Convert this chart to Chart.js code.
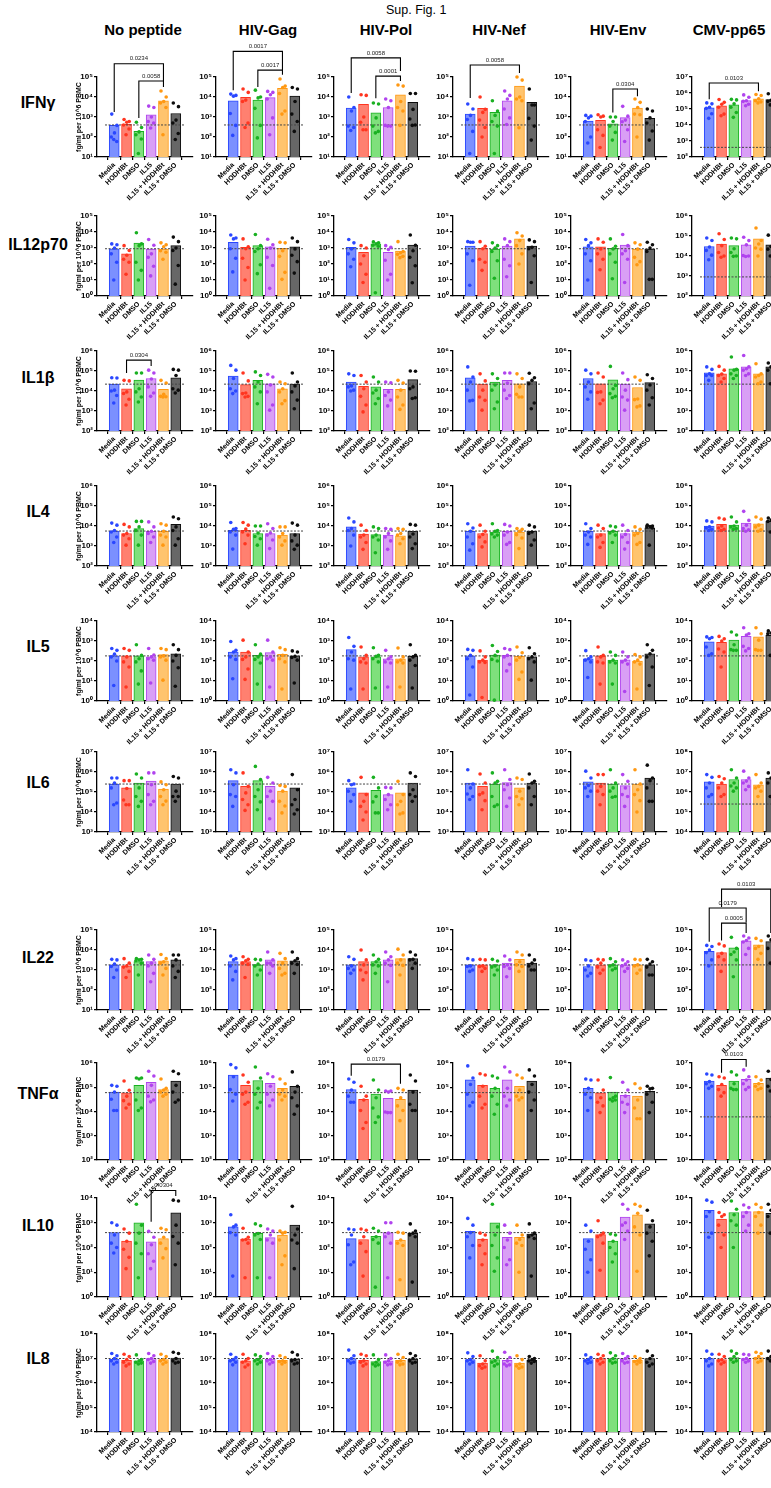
<!DOCTYPE html>
<html>
<head>
<meta charset="utf-8">
<script src="https://cdn.jsdelivr.net/npm/chart.js@4.4.1/dist/chart.umd.min.js"></script>
<style>
  body { margin: 0; width: 771px; height: 1488px; overflow: hidden; background: #fff; position: relative;
         font-family: "Liberation Sans", Arial, sans-serif; }
  canvas { position: absolute; }
  .hdr { position: absolute; top: 21px; font-size: 15px; font-weight: bold; transform: translateX(-50%); white-space: nowrap; }
  .lbl { position: absolute; font-size: 16px; font-weight: bold; transform: translate(-50%, -50%); white-space: nowrap; }
  #title { position: absolute; left: 386px; top: 3px; font-size: 12.5px; }
</style>
</head>
<body>
<div id="title">Sup. Fig. 1</div>
<script>
const stimuli = ['No peptide', 'HIV-Gag', 'HIV-Pol', 'HIV-Nef', 'HIV-Env', 'CMV-pp65'];
const conditions = ['Media', 'HODHBt', 'DMSO', 'IL15', 'IL15 + HODHBt', 'IL15 + DMSO'];
const cytokines = ['IFNγ', 'IL12p70', 'IL1β', 'IL4', 'IL5', 'IL6', 'IL22', 'TNFα', 'IL10', 'IL8'];

// y axis decades (10^low .. 10^high) per cytokine, per stimulus
const yLow  = [[1,1,1,1,1,2],[0,0,0,0,0,2],[2,2,2,2,2,2],[2,2,2,2,2,2],[0,0,0,0,0,0],[3,3,3,3,3,4],[1,1,1,1,1,1],[2,2,2,2,2,3],[0,0,0,0,0,0],[4,4,4,4,4,4]];
const yHigh = [[5,5,5,5,5,7],[5,5,5,5,5,6],[6,6,6,6,6,6],[6,6,6,6,6,6],[4,4,4,4,4,4],[7,7,7,7,7,8],[5,5,5,5,5,5],[6,6,6,6,6,7],[4,4,4,4,4,4],[8,8,8,8,8,8]];

// dotted detection-limit line
const lod = [400, 900, 2.2e4, 5.6e3, 180, 2.5e5, 1.8e3, 6e4, 400, 1e7];

// bar heights: [stimulus][condition]
const ifngBars = [[380,430,190,1300,6500,1500],[6500,9500,7000,9300,2.7e4,1.1e4],[2800,4300,1600,3000,1.3e4,5400],[1400,2700,1700,6500,3.5e4,5400],[630,680,460,930,2800,850],[1.2e5,1.6e5,1.8e5,3.3e5,4.3e5,3.9e5]];
const il12Bars = [[900,430,2000,870,870,1400],[2300,1100,1400,1200,950,1200],[1100,540,1800,540,650,1500],[1300,950,870,1300,3700,1300],[1200,1200,950,1500,870,870],[3e4,4e4,3.3e4,3.6e4,7.2e4,3.6e4]];
const il1bBars = [[2.2e4,1.3e4,3.5e4,4.2e4,1.2e4,4.6e4],[5.6e4,2.1e4,3.4e4,2.3e4,1.3e4,2.2e4],[2.8e4,1.7e4,1.6e4,1.2e4,1.2e4,3.7e4],[4.5e4,2.2e4,2.8e4,3.4e4,2.3e4,3e4],[4.2e4,2.3e4,3.6e4,2.2e4,1.5e4,2.6e4],[8e4,7.2e4,1.3e5,1.6e5,7.2e4,1.6e5]];
const il4Bars  = [[5500,4200,7400,5400,5400,1.2e4],[6000,6000,4200,4200,3500,4200],[9000,3900,3700,3500,3200,5400],[5400,4200,5000,5400,5000,5400],[5400,4200,5400,4200,5000,8000],[1e4,1.2e4,1.1e4,1.4e4,1.3e4,1.7e4]];
const il5Bars  = [[180,180,180,160,210,230],[280,280,190,260,215,180],[370,160,160,130,130,170],[180,110,200,190,170,160],[130,180,110,115,100,230],[900,850,1100,1700,1600,1900]];
const il6Bars  = [[2.5e5,1.6e5,2.8e5,3.5e5,1.4e5,2.5e5],[3.7e5,1.9e5,3.7e5,1.9e5,1.1e5,1.6e5],[1.6e5,9e4,1.2e5,7.4e4,9e4,2.8e5],[2.8e5,1.9e5,2.5e5,3e5,1.6e5,2.8e5],[3.2e5,2.8e5,2.5e5,2.1e5,2.5e5,5e5],[3.2e6,2.5e6,4.2e6,4.2e6,2.3e6,5e6]];
const il22Bars = [[1800,1600,2600,2600,2900,3200],[2600,2600,1800,3200,2900,2900],[1800,2600,2600,3200,3700,3700],[1800,1800,1800,2200,3400,2200],[1500,1800,1800,1800,1800,1800],[8500,7500,1.3e4,2.9e4,1.8e4,2.6e4]];
const tnfBars  = [[6.3e4,5.9e4,1.2e5,1.6e5,8e4,1.8e5],[3.2e5,1.2e5,1.9e5,1.45e5,9e4,1.1e5],[8e4,3.2e4,5.2e4,3.5e4,3.2e4,7.7e4],[2e5,1.2e5,9e4,2e5,1.1e5,1.8e5],[9e4,5.9e4,6.3e4,4.6e4,4.3e4,6.8e4],[1.8e6,1.2e6,1.8e6,2.1e6,1.45e6,2.4e6]];
const il10Bars = [[400,180,1000,170,230,2500],[680,220,370,250,320,800],[230,210,280,400,200,370],[450,220,1000,260,260,350],[230,330,180,1700,2100,900],[3200,1400,2600,2800,2800,2400]];
const il8Bars  = [[9.5e6,8.5e6,8e6,1e7,9e6,1.05e7],[9e6,8e6,9e6,9.5e6,8.5e6,9.5e6],[1e7,8.5e6,7.5e6,8e6,8.5e6,9.5e6],[9e6,6.5e6,9e6,8.5e6,6.5e6,8.5e6],[9e6,1e7,1e7,1e7,8.5e6,1e7],[1e7,9e6,1.1e7,1e7,1.1e7,1.1e7]];

// donor values: [stimulus][condition][donor]
const ifngDots = [
  [[1400,380,160,100,60,75],[750,600,550,400,250,130],[550,300,180,130,80,15],[3500,3000,1000,600,500,280],[2e4,1e4,6000,5000,3000,130],[5000,3300,700,500,150,75]],
  [[1.4e4,1.2e4,1.1e4,1500,380,120],[2.5e4,1.7e4,7000,6000,500,300],[2.2e4,1e4,9000,2700,380,90],[1.9e4,1.7e4,1.3e4,8000,900,130],[8e4,3.5e4,3e4,1.5e4,2000,1400],[3e4,2.5e4,6000,1400,600,190]],
  [[1e4,3000,2000,350,300,210],[1.3e4,1.2e4,1000,550,230,230],[5000,4500,900,350,190,160],[8000,6500,3000,380,350,350],[4e4,3.5e4,6000,3000,2000,380],[1.5e4,1.5e4,2400,800,400,380]],
  [[4500,2500,1200,750,190,15],[1e4,2400,1700,700,300,100],[6500,2000,1200,600,350,15],[2e4,1.2e4,8000,2500,900,420],[1e5,7e4,1e4,8000,6500,290],[2.5e4,4000,4000,850,350,70]],
  [[1200,1100,900,600,100,50],[1300,1100,1000,230,120,30],[1000,1000,600,350,170,70],[3400,1100,700,580,230,60],[8000,5400,3000,1400,1300,100],[2500,2000,900,500,200,70]],
  [[2.4e5,2.1e5,1.3e5,1.1e5,5e4,2.6e4],[3.9e5,2.6e5,2e5,1.3e5,4.8e4,3.8e4],[4e5,3.7e5,2.1e5,1.3e5,6e4,3e4],[7.6e5,5.4e5,3.3e5,3e5,2e5,1.6e5],[8e5,7e5,4.3e5,3.3e5,2.8e5,2.4e5],[9e5,4e5,3.5e5,3e5,2.4e5,1.8e5]]
];
const il12Dots = [
  [[1800,1600,1000,430,130,10],[1400,700,350,200,130,23],[9000,1800,1400,130,40,10],[3400,1500,430,260,73,18],[2100,1600,1200,680,540,200],[4800,2500,1000,700,80,5.5]],
  [[6500,4200,3700,900,230,32],[3700,1200,900,230,60,10],[7000,1400,900,600,90,25],[3500,1600,1000,260,80,3],[2300,2100,680,300,30,11],[4200,2500,880,350,140,27]],
  [[3400,2100,880,430,200,68],[1400,1000,330,100,23,7],[2400,2100,1800,1500,1300,1.6],[1400,1100,800,170,23,10],[2500,600,500,400,300,250],[6500,1500,680,260,78,6.8]],
  [[2500,2300,2300,430,160,4.7],[2500,1300,900,200,130,40],[2100,1400,1000,600,160,13],[3700,2500,1400,200,78,16],[9000,5600,2900,1400,430,100],[3200,2500,1100,900,330,7]],
  [[3400,2100,1400,430,160,10],[3700,2300,880,430,200,44],[3700,1300,880,430,130,12],[7000,1400,680,430,200,7],[2100,1600,850,260,140,90],[2300,1600,1000,600,11,11]],
  [[8e4,6e4,2.8e4,1.9e4,1.1e4,6500],[1.3e5,6.7e4,3.3e4,1.5e4,1e4,8600],[8e4,7.2e4,2.3e4,1.5e4,1e4,9600],[8.7e4,5.9e4,3.6e4,1.05e4,1e4,9500],[2.5e5,6e4,4e4,2.5e4,2.2e4,1e4],[1.1e5,4.5e4,3e4,2.2e4,1.3e4,1e4]]
];
const il1bDots = [
  [[4.6e4,4.5e4,1.1e4,1e4,6000,2500],[3.4e4,3.2e4,9000,7500,3900,2000],[8e4,8e4,1.3e4,9000,5000,2800],[1.1e5,8e4,4e4,1.6e4,8000,5400],[3.4e4,2.5e4,6800,5400,5200,5000],[1.2e5,1.1e5,6e4,1.3e4,1.1e4,8000]],
  [[1.9e5,1.1e5,4.2e4,1.3e4,1e4,7400],[8e4,3.2e4,8000,7400,5400,5000],[9e4,6e4,2.8e4,1.6e4,9000,2300],[6.8e4,5e4,2e4,9000,2000,1100],[2.8e4,2.3e4,1.3e4,9000,3300,2300],[8e4,2.8e4,1.8e4,9000,3500,1300]],
  [[7.2e4,6e4,1.8e4,1.6e4,1.1e4,1e4],[6e4,2.8e4,1.3e4,5400,2000,900],[5e4,2.8e4,1.1e4,8000,4200,2300],[2.8e4,2.6e4,9000,6000,3500,1800],[3.4e4,2.5e4,1.1e4,5000,2000,1200],[1e5,9.7e4,1.6e4,1.3e4,4600,4200]],
  [[1.6e5,5e4,2.8e4,1.1e4,3400,3200],[7.2e4,3.2e4,1.1e4,5000,3400,1100],[7.2e4,4.2e4,2e4,1.1e4,2800,1300],[8e4,8e4,2.5e4,1.1e4,6000,4200],[7.2e4,4.2e4,1.6e4,6800,5000,5000],[7.7e4,4.6e4,3.4e4,2.3e4,2500,1300]],
  [[1.1e5,7.2e4,2.8e4,1.6e4,9000,3900],[8e4,5e4,9000,8500,3500,2300],[1.7e5,1.9e4,1.3e4,7400,5400,4600],[8e4,3.7e4,1.1e4,5000,3500,1100],[5e4,3.4e4,4000,3700,1800,1600],[6.5e4,4.2e4,2e4,1.1e4,4600,2000]],
  [[1.6e5,1.2e5,7.2e4,6e4,6e4,3.4e4],[1.7e5,1.1e5,7e4,6e4,4.2e4,2.8e4],[5e5,1.2e5,1.1e5,7.2e4,6e4,4.2e4],[6e5,1.6e5,1.3e5,1.1e5,7.2e4,6e4],[2.3e5,7.2e4,6e4,5e4,2.8e4,2.3e4],[2.5e5,2.3e5,1.6e5,1.1e5,6e4,2.3e4]]
];
const il4Dots = [
  [[1.4e4,1.1e4,6000,5000,2800,1500],[1.2e4,9000,4200,3500,2300,1100],[1.7e4,1.7e4,9000,6000,3500,1100],[1.6e4,9000,5500,4200,2800,1500],[1.3e4,1.1e4,5500,3500,2800,1100],[2.8e4,2.3e4,9000,6000,2300,1100]],
  [[1.5e4,7400,6800,5000,3500,700],[1.5e4,1.1e4,7000,5000,3500,1300],[1e4,1e4,4500,3000,2300,1100],[1.3e4,7400,4500,3500,2000,740],[9000,9000,4200,2800,1800,1100],[1.4e4,1.1e4,3500,1800,1100,680]],
  [[2.5e4,1.6e4,7400,6000,3500,1000],[1.1e4,6000,3500,2800,1500,680],[9000,7400,3500,2800,2000,460],[7400,6800,4200,2800,1800,680],[7400,6800,4200,3500,2300,1300],[1.2e4,1.1e4,4000,2800,1300,740]],
  [[1.3e4,7900,5500,2800,1300,620],[1.1e4,5500,3800,2800,1600,900],[1.3e4,6000,5500,4000,3500,2800],[1.2e4,1e4,5000,3500,1500,1200],[7400,6800,5500,3700,2500,740],[1.1e4,9000,5000,4200,2000,1100]],
  [[1.3e4,7400,5000,3500,2800,1200],[1.1e4,7400,3500,2800,1500,850],[1e4,9000,5500,4500,3500,1500],[1.1e4,6000,3800,2800,1500,700],[9000,6800,4200,3500,1500,1200],[1.1e4,1e4,9500,9000,8000,1100]],
  [[1.8e4,1.6e4,9000,7900,6800,6000],[2.5e4,2.2e4,1e4,8000,6800,6000],[2.8e4,1.6e4,1e4,9000,7400,6800],[5.4e4,1.9e4,1.1e4,7400,6500,5500],[2.8e4,2.2e4,1.1e4,9000,6500,5500],[2.5e4,2.2e4,2e4,1.7e4,9000,5000]]
];
const il5Dots = [
  [[420,340,220,160,100,6],[420,340,160,90,50,5],[650,190,130,90,32,7],[420,200,160,130,110,8],[420,370,180,160,110,11],[650,370,190,100,46,5.5]],
  [[950,340,280,160,120,13],[1100,280,160,120,40,12],[650,220,160,120,80,7],[1100,280,160,130,110,5],[460,370,190,130,90,4],[320,280,170,150,110,8]],
  [[1500,540,280,130,110,4],[500,190,130,90,80,4],[460,190,170,130,90,4.5],[340,160,130,90,80,5],[450,160,110,90,80,5],[650,190,160,110,60,4.5]],
  [[380,340,190,130,50,2],[320,160,110,90,85,1.5],[600,300,190,120,100,1.1],[420,370,190,160,68,32],[500,260,150,110,28,12],[460,230,160,130,90,11]],
  [[330,160,130,110,90,15],[500,190,160,90,80,7],[280,190,110,90,80,7],[280,160,110,90,70,3],[210,160,110,90,70,4],[650,340,230,160,50,6]],
  [[1600,1500,1300,500,230,190],[1700,1300,1000,400,280,50],[2800,2000,650,370,340,340],[4600,2300,2000,540,420,320],[4600,2300,1100,370,340,340],[3200,2800,2500,2300,280,190]]
];
const il6Dots = [
  [[5e5,5e5,2.8e5,1.6e5,2.8e4,2.3e4],[3.7e5,3.7e5,1.5e5,4e4,2.3e4,2.3e4],[8e5,5e5,1.6e5,6e4,3.4e4,1.9e4],[9e5,9e5,2.3e5,7.4e4,3.4e4,2.3e4],[3.2e5,2.3e5,1.3e5,6e4,3.5e4,2.3e4],[6e5,5e5,1.1e5,6e4,6e4,3.4e4]],
  [[1.3e6,9e5,2.3e5,7.4e4,6e4,1.9e4],[9e5,1.9e5,9e4,4.2e4,2.3e4,1.2e4],[1.9e6,4.2e5,1.3e5,6e4,3.2e4,1.3e4],[5.4e5,2.8e5,1.1e5,6e4,3.4e4,4600],[2.1e5,1.9e5,1.1e5,3.4e4,2e4,9000],[7.4e5,1.3e5,4.2e4,2.3e4,1.3e4,8000]],
  [[3.7e5,2.5e5,2.3e5,1.1e5,7.4e4,3.4e4],[5.4e5,7.4e4,3.4e4,1.9e4,1e4,4000],[5.4e5,1.6e5,6e4,3.2e4,9000,9000],[1.7e5,1.6e5,7.4e4,4.2e4,2.3e4,1.3e4],[3.4e5,7.4e4,3.4e4,2.3e4,9000,8000],[9e5,6e5,1.3e5,7.4e4,6e4,3.4e4]],
  [[1.3e6,2.5e5,1.6e5,8e4,6e4,4.2e4],[8e5,2.8e5,9e4,7.4e4,3.7e4,1.3e4],[9e5,3.4e5,2.8e5,6e4,2.3e4,1.9e4],[1.3e6,4.2e5,2.3e5,1.3e5,5e4,1.9e4],[5e5,4.2e5,1.1e5,6e4,4.6e4,2.3e4],[8e5,3.4e5,2.8e5,1.6e5,6e4,2.3e4]],
  [[1.1e6,5e5,2.1e5,1.6e5,1.1e5,6e4],[7.4e5,7.4e5,1.9e5,1.1e5,7.4e4,2.3e4],[1.3e6,2.8e5,1.6e5,1.1e5,6e4,5.5e4],[7.4e5,3.4e5,1.6e5,7.4e4,6e4,1.9e4],[1.3e6,2.5e5,1.3e5,7.4e4,3.7e4,1e4],[2.2e6,5e5,3.7e5,1.6e5,3.4e4,3.4e4]],
  [[7.4e6,5.4e6,2.8e6,1.6e6,7.4e5,6e5],[6e6,4.6e6,2.8e6,1.6e6,7.4e5,6e5],[1.3e7,5e6,2.8e6,2e6,1.6e6,1.1e6],[1.1e7,5e6,3.5e6,2.8e6,1.9e6,1.3e6],[7.4e6,2.8e6,1.9e6,1.6e6,1.1e6,6e5],[9e6,7.4e6,5e6,2.8e6,1.9e6,6e5]]
];
const il22Dots = [
  [[3400,3200,2000,1500,1000,420],[3700,2200,1600,1400,850,420],[3700,3400,3200,2900,2200,560],[5600,3400,2200,1600,680,260],[6000,3700,2600,2200,1200,560],[5600,5600,3200,1600,850,420]],
  [[5000,3700,3200,1600,850,320],[4600,3400,2900,2200,1900,420],[3400,3200,2000,1600,1000,560],[8000,3200,2200,2200,1600,680],[6800,3700,2200,1200,680,560],[8000,3700,2900,2200,1900,680]],
  [[4600,3400,1600,1200,1000,680],[1e4,3200,1800,1000,740,320],[5600,3400,2600,1800,1600,680],[8000,4600,3200,2200,1700,260],[1.1e4,5600,3200,2200,1700,560],[8000,5600,3400,3200,2200,1200]],
  [[3700,3200,1600,1500,1000,850],[3400,3200,1600,1500,1200,850],[3400,2800,1600,1400,1000,560],[5000,3200,1800,1500,1200,460],[8000,5600,2600,1800,1500,850],[5600,3200,2200,1600,1000,1000]],
  [[3200,2900,1600,1000,680,500],[3400,3200,2200,1400,1000,680],[3700,2600,1800,1600,1200,1000],[3200,2600,2000,1600,1200,850],[3400,3200,1800,1600,1000,680],[3400,2600,2000,1400,560,560]],
  [[1.7e4,1.5e4,1e4,7400,3200,1600],[2e4,1.6e4,6800,4600,3200,850],[4.3e4,1.2e4,8000,6000,3200,460],[5e4,4e4,3e4,2.5e4,1.2e4,6000],[3.8e4,2.9e4,1.5e4,1.2e4,6800,3400],[5e4,5e4,3.2e4,1.2e4,3200,2200]]
];
const tnfDots = [
  [[1.2e5,1.1e5,6.3e4,3.2e4,1.1e4,1.1e4],[1.8e5,7.5e4,4.3e4,2.8e4,2e4,1.4e4],[2.4e5,2.4e5,2.2e5,3e4,1.4e4,1.1e4],[4.6e5,2.9e5,1.2e5,4.3e4,3e4,2.5e4],[2.2e5,9e4,7.7e4,6.3e4,5.2e4,4.3e4],[4.6e5,3.6e5,1.2e5,6.3e4,3e4,2.4e4]],
  [[8.6e5,6.3e5,2.7e5,8e4,5.2e4,2.7e4],[3.2e5,1.6e5,6.3e4,5.2e4,2.4e4,2e4],[6.8e5,2.4e5,9e4,5.2e4,2.4e4,1.4e4],[3.6e5,2.7e5,1.1e5,5.2e4,3e4,1.7e4],[2.2e5,1.4e5,7.7e4,5.2e4,4.3e4,3e4],[4.3e5,1.1e5,6.3e4,3.7e4,1.7e4,7700]],
  [[2.2e5,1.6e5,7.7e4,4.3e4,2.4e4,2.4e4],[1.1e5,4.3e4,3e4,1.1e4,3500,2000],[2e5,7.7e4,3.7e4,1.4e4,6000,3500],[7e4,7e4,6.3e4,9500,9000,9000],[9e4,7.7e4,3.7e4,1.7e4,1.1e4,4200],[3.2e5,1.8e5,6.3e4,2e4,1.1e4,1.1e4]],
  [[7.6e5,2.4e5,1.3e5,5.2e4,2.4e4,1.7e4],[3.6e5,3.2e5,1.1e5,4.3e4,2e4,1.4e4],[2.9e5,2.4e5,9e4,4.3e4,2e4,7700],[6.8e5,4.3e5,9e4,4.3e4,3e4,1.7e4],[3.2e5,2.4e5,7.7e4,4.3e4,3.7e4,3e4],[5.2e5,2.9e5,1.3e5,6.3e4,3e4,1.1e4]],
  [[2.2e5,2e5,9e4,5.2e4,3.7e4,1.1e4],[2e5,7.7e4,3.7e4,2.4e4,1.7e4,9000],[2.5e5,4.3e4,3.7e4,3.2e4,3e4,2.7e4],[1.6e5,7.7e4,4.3e4,2.4e4,2e4,9000],[1.4e5,9e4,3e4,1.4e4,5000,5000],[1.1e5,9e4,8.6e4,5.2e4,2.4e4,9000]],
  [[3.5e6,3.2e6,1.7e6,1.4e6,1.1e6,9e5],[2.7e6,2.4e6,1.3e6,8e5,6e5,4.3e5],[4.3e6,3.2e6,1.4e6,9e5,8e5,8e5],[5.2e6,2.7e6,2e6,1.4e6,1e6,8e5],[2.7e6,2e6,1.4e6,1.1e6,9e5,8e5],[4.6e6,4.3e6,2.1e6,1.1e6,9e5,7e5]]
];
const il10Dots = [
  [[1000,800,320,150,100,60],[560,380,180,85,40,14],[5600,800,380,150,56,6],[450,260,130,56,28,14],[600,520,260,150,90,38],[8200,7600,800,280,150,20]],
  [[2100,800,680,400,320,7],[600,260,210,200,150,6],[900,760,370,320,210,6],[560,460,320,200,150,6],[460,410,380,200,46,20],[4600,560,320,200,150,14]],
  [[560,520,320,130,26,20],[560,500,270,150,68,7],[600,460,270,210,150,2.5],[1000,1000,380,270,150,6],[410,380,200,150,120,5],[900,460,380,320,270,4]],
  [[1500,800,400,270,120,38],[380,320,200,120,56,20],[5600,680,320,120,38,11],[800,380,200,100,32,20],[800,320,210,150,120,10],[900,380,320,270,230,7]],
  [[800,460,180,85,32,10],[1200,380,320,270,150,12],[350,320,180,100,56,26],[5600,3500,1000,800,460,210],[5600,4600,2400,680,320,11],[3200,1200,680,380,180,46]],
  [[8200,6800,2800,1800,380,260],[2600,2100,1800,800,320,100],[7600,3500,2100,1200,800,100],[5200,4100,2600,1800,800,460],[5600,4100,2600,1800,800,380],[5600,4100,3200,1800,800,380]]
];
const il8Dots = [
  [[1.6e7,1.3e7,1e7,8e6,7e6,6e6],[1.5e7,1.2e7,9e6,7e6,6e6,5e6],[1.4e7,9e6,8e6,7e6,6.5e6,6e6],[1.6e7,1.3e7,1e7,9e6,7.5e6,6.5e6],[1.5e7,1.2e7,9e6,8e6,7e6,6e6],[1.8e7,1.6e7,1e7,8e6,7e6,6.5e6]],
  [[1.5e7,1.1e7,9e6,8e6,7e6,5.5e6],[1.5e7,1e7,8e6,7e6,5.5e6,4.5e6],[1.4e7,1.2e7,9e6,8e6,7e6,6e6],[1.6e7,1.2e7,9e6,8e6,7e6,6e6],[1.3e7,1.1e7,8e6,7.5e6,7e6,6e6],[1.8e7,1.4e7,9e6,8e6,6.5e6,6e6]],
  [[2.2e7,1.3e7,1e7,8e6,7e6,6.5e6],[1.5e7,1.3e7,8e6,7e6,6e6,5e6],[1.4e7,9e6,7e6,6e6,5.5e6,5e6],[1.4e7,1e7,8e6,7e6,6e6,5.5e6],[1.5e7,1.1e7,8e6,7e6,6e6,5.5e6],[1.6e7,1.3e7,1e7,8e6,7e6,6.5e6]],
  [[1.7e7,1.2e7,9e6,8e6,7e6,6e6],[1.3e7,8e6,6e6,5e6,4.5e6,4e6],[2e7,1.1e7,8e6,7e6,6e6,5e6],[1.8e7,1.1e7,8e6,6e6,5.5e6,5e6],[1.3e7,9e6,6e6,5e6,4.5e6,4e6],[1.2e7,1e7,9e6,8e6,7.5e6,6.5e6]],
  [[1.4e7,1.1e7,9e6,8e6,7e6,6.5e6],[1.5e7,1.3e7,1e7,8e6,7e6,6e6],[1.7e7,1.3e7,1e7,8e6,7e6,6.5e6],[1.6e7,1.2e7,1e7,8e6,7e6,6.5e6],[1.2e7,1e7,8e6,7.5e6,7e6,6e6],[2e7,1.3e7,1e7,7e6,6e6,5e6]],
  [[2e7,1.5e7,1e7,8e6,6e6,5e6],[1.5e7,1.2e7,9e6,8e6,7e6,6e6],[2e7,1.6e7,1.2e7,9e6,8e6,7e6],[1.5e7,1.4e7,1e7,9e6,8e6,7e6],[1.8e7,1.6e7,1.2e7,1e7,8e6,7e6],[2e7,1.5e7,1.2e7,1e7,9e6,8e6]]
];

// significance brackets: row, stimulus, from, to, p, bracket level, left leg end, right leg end
const brackets = [
  [0, 0, 0, 4, '0.0234', 4.6e5, 1.8e3, 6.3e4],
  [0, 0, 2, 4, '0.0058', 6.3e4, 9e2, 3.2e4],
  [0, 1, 0, 4, '0.0017', 1.9e6, 2.2e4, 2.2e5],
  [0, 1, 2, 4, '0.0017', 2.2e5, 3.2e4, 1.3e5],
  [0, 2, 0, 4, '0.0058', 9e5, 1.6e4, 2e5],
  [0, 2, 2, 4, '0.0001', 1.1e5, 8.7e3, 6.3e4],
  [0, 3, 0, 4, '0.0058', 4e5, 9e3, 1.6e5],
  [0, 4, 2, 4, '0.0304', 2.5e4, 1.7e3, 1.1e4],
  [0, 5, 0, 4, '0.0103', 4.2e6, 4e5, 1.3e6],
  [2, 0, 1, 3, '0.0304', 3.5e5, 8e4, 1.8e5],
  [6, 5, 1, 5, '0.0103', 1.1e7, 1.4e6, 7e4],
  [6, 5, 0, 3, '0.0179', 1.25e6, 2.6e4, 2.4e5],
  [6, 5, 1, 3, '0.0005', 2.2e5, 3e4, 7e4],
  [7, 2, 0, 4, '0.0179', 9e5, 3e5, 1.4e5],
  [7, 5, 1, 3, '0.0103', 1.4e7, 4e6, 7e6],
  [8, 0, 3, 5, '0.0304', 2e4, 1.1e3, 1.2e4]
];

const barSets = [ifngBars, il12Bars, il1bBars, il4Bars, il5Bars, il6Bars, il22Bars, tnfBars, il10Bars, il8Bars];
const dotSets = [ifngDots, il12Dots, il1bDots, il4Dots, il5Dots, il6Dots, il22Dots, tnfDots, il10Dots, il8Dots];

// layout
const colX = [97, 216, 334, 453, 571, 692];
const rowTop = [77, 216, 351, 486, 621, 752, 930, 1063, 1198, 1334];
const rowH = [80, 80, 80, 80, 80, 80, 80, 97, 99, 98];
const labelY = [103, 245, 378, 512, 647, 783, 958, 1094, 1226, 1359];
const hdrX = [143, 268, 386, 499, 618, 729];
const plotW = 96, yw = 22, padT = 62, xh = 56;
const fills = ['#7b90ff', '#ff8070', '#7fe07c', '#d99ff5', '#ffc46e', '#676767'];
const edges = ['#2a47ff', '#ff3520', '#19b021', '#b043ee', '#ff9812', '#0d0d0d'];
const jitter = [-0.2, 0.22, 0.02, -0.24, 0.2, -0.04];
const sup = {'0':'⁰','1':'¹','2':'²','3':'³','4':'⁴','5':'⁵','6':'⁶','7':'⁷','8':'⁸','9':'⁹'};

Chart.defaults.font.family = '"Liberation Sans", Arial, sans-serif';
Chart.defaults.color = '#000';

const bracketPlugin = {
  id: 'brackets',
  afterDatasetsDraw(chart, args, opts) {
    const {ctx} = chart;
    const x = chart.scales.x, y = chart.scales.y;
    ctx.save();
    ctx.strokeStyle = '#000';
    ctx.lineWidth = 1.1;
    ctx.fillStyle = '#222';
    ctx.font = '6px "Liberation Sans", Arial, sans-serif';
    ctx.textAlign = 'center';
    ctx.textBaseline = 'bottom';
    (opts.items || []).forEach(b => {
      const x1 = x.getPixelForValue(b[2]), x2 = x.getPixelForValue(b[3]);
      const yt = y.getPixelForValue(b[5]);
      ctx.beginPath();
      ctx.moveTo(x1, y.getPixelForValue(b[6]));
      ctx.lineTo(x1, yt);
      ctx.lineTo(x2, yt);
      ctx.lineTo(x2, y.getPixelForValue(b[7]));
      ctx.stroke();
      ctx.fillText(b[4], (x1 + x2) / 2, yt - 2);
    });
    ctx.restore();
  }
};

function drawPanel(r, c) {
  const canvas = document.createElement('canvas');
  canvas.width = yw + plotW + 6;
  canvas.height = padT + rowH[r] + xh;
  canvas.style.left = (colX[c] - yw) + 'px';
  canvas.style.top = (rowTop[r] - padT) + 'px';
  document.body.appendChild(canvas);

  const pts = [], ptColors = [];
  dotSets[r][c].forEach((vals, i) => {
    vals.forEach((v, k) => {
      pts.push({x: i + jitter[k], y: v});
      ptColors.push(edges[i]);
    });
  });
  const lo = yLow[r][c], hi = yHigh[r][c];
  const decades = [];
  for (let e = lo; e <= hi; e++) decades.push(e);

  new Chart(canvas, {
    type: 'bar',
    data: {
      datasets: [
        {
          type: 'scatter', data: pts, pointBackgroundColor: ptColors, pointBorderWidth: 0,
          pointRadius: 1.8, order: 0, clip: 6
        },
        {
          type: 'line', data: [{x: -0.75, y: lod[r]}, {x: 5.75, y: lod[r]}],
          borderColor: '#444', borderWidth: 1, borderDash: [2, 1.5], pointRadius: 0, order: 1
        },
        {
          type: 'bar', data: barSets[r][c].map((v, i) => ({x: i, y: v})),
          backgroundColor: fills, borderColor: edges, borderWidth: 1, barThickness: 10, order: 2
        }
      ]
    },
    plugins: [bracketPlugin],
    options: {
      responsive: false,
      animation: false,
      events: [],
      layout: {padding: {top: padT, right: 6, left: 0, bottom: 0}},
      plugins: {
        legend: {display: false},
        tooltip: {enabled: false},
        brackets: {items: brackets.filter(b => b[0] === r && b[1] === c)}
      },
      scales: {
        x: {
          type: 'linear', min: -0.75, max: 5.75, bounds: 'data',
          afterBuildTicks: s => { s.ticks = conditions.map((n, i) => ({value: i})); },
          afterFit: s => { s.height = xh; },
          ticks: {
            autoSkip: false, minRotation: 45, maxRotation: 45, padding: 1,
            font: {size: 7, weight: 'bold'},
            callback: v => conditions[v]
          },
          grid: {drawOnChartArea: false, tickLength: 3, color: '#000', lineWidth: 1.2},
          border: {color: '#000', width: 1.3}
        },
        y: {
          type: 'logarithmic', min: Math.pow(10, lo), max: Math.pow(10, hi),
          afterBuildTicks: s => { s.ticks = decades.map(e => ({value: Math.pow(10, e)})); },
          afterFit: s => { s.width = yw; },
          ticks: {
            padding: 1, font: {size: 8, weight: 'bold'},
            callback: v => '10' + String(Math.round(Math.log10(v))).split('').map(d => sup[d]).join('')
          },
          grid: {drawOnChartArea: false, tickLength: 3, color: '#000', lineWidth: 1.2},
          border: {color: '#000', width: 1.3},
          title: {
            display: c === 0, text: 'fg/ml per 10^6 PBMC', padding: 0,
            font: {size: 7, weight: 'bold'}
          }
        }
      }
    }
  });
}

stimuli.forEach((s, c) => {
  const d = document.createElement('div');
  d.className = 'hdr';
  d.style.left = hdrX[c] + 'px';
  d.textContent = s;
  document.body.appendChild(d);
});

cytokines.forEach((name, r) => {
  const d = document.createElement('div');
  d.className = 'lbl';
  d.style.left = '38px';
  d.style.top = labelY[r] + 'px';
  d.textContent = name;
  document.body.appendChild(d);
  for (let c = 0; c < stimuli.length; c++) drawPanel(r, c);
});
</script>
</body>
</html>
